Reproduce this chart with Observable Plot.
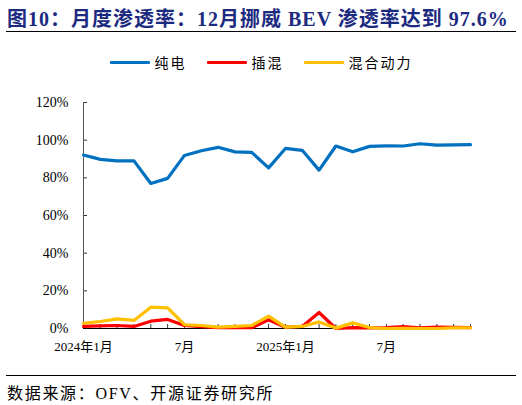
<!DOCTYPE html>
<html>
<head>
<meta charset="utf-8">
<script src="https://cdn.jsdelivr.net/npm/d3@7"></script>
<script src="https://cdn.jsdelivr.net/npm/@observablehq/plot@0.6"></script>
<style>
  body { margin: 0; width: 522px; height: 405px; position: relative; background: #fff;
         font-family: "Liberation Serif", "Noto Sans CJK SC", serif; overflow: hidden; }
  #title { position: absolute; left: 7px; top: 3px; font-size: 20px; font-weight: bold;
           color: #1c2a80; letter-spacing: 1px; white-space: nowrap; }
  .rule { position: absolute; left: 6px; width: 510px; height: 1px; background: #000; }
  #legend { position: absolute; top: 52px; left: 0; width: 522px; display: flex;
            justify-content: center; align-items: center; font-size: 14px; letter-spacing: 2px; }
  .item { display: flex; align-items: center; margin: 0 10px; }
  .swatch { width: 40px; height: 3px; margin-right: 5px; border-radius: 1px; }
  #chart { position: absolute; left: 0; top: 80px; }
  #source { position: absolute; left: 7px; top: 380px; font-size: 16px; letter-spacing: 1.7px; white-space: nowrap; }
</style>
</head>
<body>
<div id="title">图10：月度渗透率：12月挪威 BEV 渗透率达到 97.6%</div>
<div class="rule" style="top:31px"></div>
<div id="legend"></div>
<div id="chart"></div>
<div class="rule" style="top:375px"></div>
<div id="source">数据来源：OFV、开源证券研究所</div>
<script>
const months = [
  "2024-01","2024-02","2024-03","2024-04","2024-05","2024-06",
  "2024-07","2024-08","2024-09","2024-10","2024-11","2024-12",
  "2025-01","2025-02","2025-03","2025-04","2025-05","2025-06",
  "2025-07","2025-08","2025-09","2025-10","2025-11","2025-12"
];
const labelMonths = ["2024-01", "2024-07", "2025-01", "2025-07"];
const labelText = ["2024年1月", "7月", "2025年1月", "7月"];

const seriesNames = ["纯电", "插混", "混合动力"];
const seriesColors = ["#0070c0", "#ff0000", "#ffc000"];

const bev  = [92.1, 89.8, 89.0, 89.0, 77.0, 79.7, 91.9, 94.4, 96.2, 93.8, 93.5, 85.3,
              95.6, 94.6, 84.1, 96.9, 93.8, 96.7, 97.0, 96.9, 98.1, 97.4, 97.5, 97.6];
const phev = [1.1, 1.4, 1.6, 1.1, 3.9, 4.8, 1.6, 1.0, 0.4, 0.5, 0.4, 4.6,
              0.7, 1.1, 8.5, 0.0, 0.5, 0.3, 0.5, 1.0, 0.4, 0.8, 0.6, 0.5];
const hev  = [2.8, 3.7, 5.1, 4.3, 11.3, 11.0, 2.0, 1.6, 0.7, 1.1, 1.6, 6.6,
              0.7, 1.1, 3.5, 0.2, 3.0, 0.5, 0.0, 0.1, 0.0, 0.0, 0.3, 0.4];
const yTicks = [0, 20, 40, 60, 80, 100, 120];

// month position on a category axis
const idx = m => months.indexOf(m);

const values = [bev, phev, hev];
const rows = values.flatMap((vals, s) =>
  vals.map((v, i) => ({month: months[i], series: seriesNames[s], value: v})));

const legend = document.getElementById("legend");
seriesNames.forEach((name, i) => {
  const item = document.createElement("div");
  item.className = "item";
  item.innerHTML = `<span class="swatch" style="background:${seriesColors[i]}"></span><span>${name}</span>`;
  legend.append(item);
});

const chart = Plot.plot({
  width: 522,
  height: 280,
  marginTop: 22,
  marginBottom: 32,
  marginLeft: 83,
  marginRight: 52,
  x: {type: "linear", domain: [0, months.length - 1], axis: null},
  y: {domain: [0, 120], axis: null},
  color: {domain: seriesNames, range: seriesColors},
  style: {fontFamily: "'Liberation Serif','Noto Sans CJK SC',serif", fontSize: "13px", color: "#000", background: "transparent"},
  marks: [
    Plot.axisY({ticks: yTicks, tickSize: 0, tickPadding: 15, tickFormat: d => d + "%", label: null, fontSize: 14}),
    Plot.axisY({ticks: yTicks, tickSize: 4, dx: 4, tickFormat: () => "", label: null, stroke: "#333"}),
    Plot.axisX({ticks: months.map(idx), tickSize: 4, dy: -4, tickFormat: () => "", label: null, stroke: "#333"}),
    Plot.axisX({ticks: labelMonths.map(idx), tickSize: 0, tickPadding: 13, label: null, fontSize: 13,
                tickFormat: d => labelText[labelMonths.indexOf(months[d])]}),
    Plot.ruleX([0], {stroke: "#555"}),
    Plot.ruleY([0], {stroke: "#000"}),
    Plot.line(rows, {x: d => idx(d.month), y: "value", z: "series", stroke: "series", strokeWidth: 3.2})
  ]
});
document.getElementById("chart").append(chart);
</script>
</body>
</html>
